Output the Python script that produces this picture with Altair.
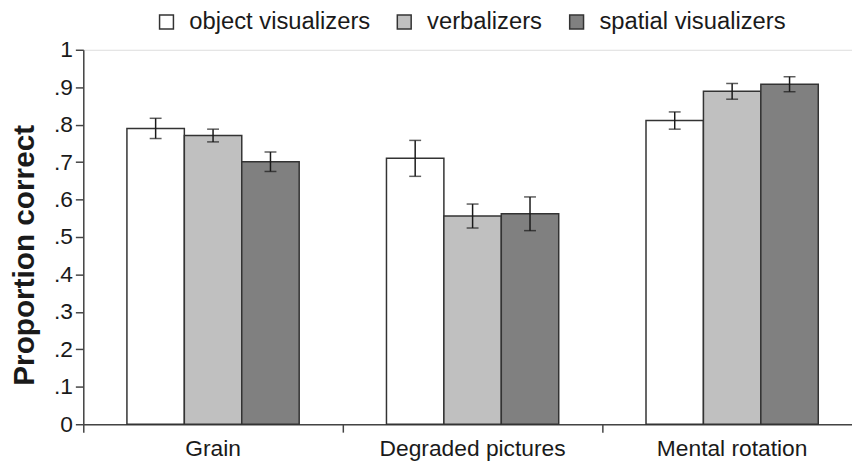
import altair as alt
import pandas as pd

tasks = ["Grain", "Degraded pictures", "Mental rotation"]
groups = ["object visualizers", "verbalizers", "spatial visualizers"]
colors = ["#ffffff", "#c0c0c0", "#808080"]

object_vis = [0.790, 0.710, 0.811]
verbal = [0.771, 0.556, 0.889]
spatial = [0.701, 0.562, 0.908]

object_err = [0.027, 0.048, 0.023]
verbal_err = [0.017, 0.032, 0.021]
spatial_err = [0.026, 0.045, 0.020]

y_ticks = [0, 0.1, 0.2, 0.3, 0.4, 0.5, 0.6, 0.7, 0.8, 0.9, 1.0]

rows = []
for g, means, errs in zip(groups, [object_vis, verbal, spatial], [object_err, verbal_err, spatial_err]):
    for t, m, e in zip(tasks, means, errs):
        rows.append({"task": t, "group": g, "mean": m, "lo": m - e, "hi": m + e})
df = pd.DataFrame(rows)

FONT = "Liberation Sans"
INK = "#1a1a1a"
LINE = "#444444"

x_enc = alt.X(
    "task:N",
    sort=tasks,
    scale=alt.Scale(range=[0, 786], paddingInner=0, paddingOuter=0),
    axis=alt.Axis(
        title=None,
        labelAngle=0,
        bandPosition=0,
        tickSize=8,
        tickWidth=1.5,
        tickColor=LINE,
        domainColor=LINE,
        domainWidth=1.5,
        labelFontSize=23,
        labelColor=INK,
        labelPadding=6,
        labelFont=FONT,
        labelLimit=0,
        labelOverlap=False,
    ),
)
xo_enc = alt.XOffset("group:N", sort=groups, scale=alt.Scale(paddingInner=0, paddingOuter=0.76))

y_scale = alt.Scale(domain=[0, 1], nice=False)
y_axis = alt.Axis(
    values=y_ticks,
    labelExpr="datum.value == 0 ? '0' : (datum.value == 1 ? '1' : replace(format(datum.value, '.1f'), '0.', '.'))",
    grid=False,
    tickSize=8,
    tickWidth=1.5,
    tickColor=LINE,
    domainColor=LINE,
    domainWidth=1.5,
    labelFontSize=23,
    labelColor=INK,
    labelPadding=3,
    labelFont=FONT,
    labelOverlap=False,
    labelLimit=0,
    title="Proportion correct",
    titleFont=FONT,
    titleFontSize=30,
    titleFontWeight="bold",
    titleColor=INK,
    titleAngle=270,
    titleAlign="center",
    titleBaseline="middle",
    titleX=-59,
    titleY=207,
    titleLimit=0,
)

base = alt.Chart(df)

bars = base.mark_bar(stroke="#333333", strokeWidth=1.5).encode(
    x=x_enc,
    xOffset=xo_enc,
    y=alt.Y("mean:Q", scale=y_scale, axis=y_axis),
    fill=alt.Fill(
        "group:N",
        sort=groups,
        scale=alt.Scale(domain=groups, range=colors),
        legend=alt.Legend(
            title=None,
            orient="none",
            direction="horizontal",
            legendX=72,
            legendY=-40,
            symbolType="square",
            symbolSize=196,
            symbolStrokeColor="#333333",
            symbolStrokeWidth=1.5,
            symbolOpacity=1,
            labelFontSize=24,
            labelFont=FONT,
            labelColor=INK,
            labelOffset=11,
            labelLimit=0,
            columnPadding=22,
            padding=0,
        ),
    ),
)

rules = base.mark_rule(color=INK, strokeWidth=1.5).encode(
    x=x_enc, xOffset=xo_enc,
    y=alt.Y("lo:Q", scale=y_scale, axis=y_axis),
    y2="hi:Q",
)
cap_lo = base.mark_tick(color=INK, thickness=1.5, size=12).encode(
    x=x_enc, xOffset=xo_enc, y=alt.Y("lo:Q", scale=y_scale, axis=y_axis)
)
cap_hi = base.mark_tick(color=INK, thickness=1.5, size=12).encode(
    x=x_enc, xOffset=xo_enc, y=alt.Y("hi:Q", scale=y_scale, axis=y_axis)
)

chart = (
    alt.layer(bars, rules, cap_lo, cap_hi)
    .properties(
        width=776,
        height=378,
        autosize=alt.AutoSizeParams(type="none"),
        padding={"left": 76, "top": 40, "right": 0, "bottom": 40},
    )
    .configure_view(stroke=None)
    .configure(font=FONT)
)

chart.save("out.html", embed_options={"renderer": "svg", "actions": False})
